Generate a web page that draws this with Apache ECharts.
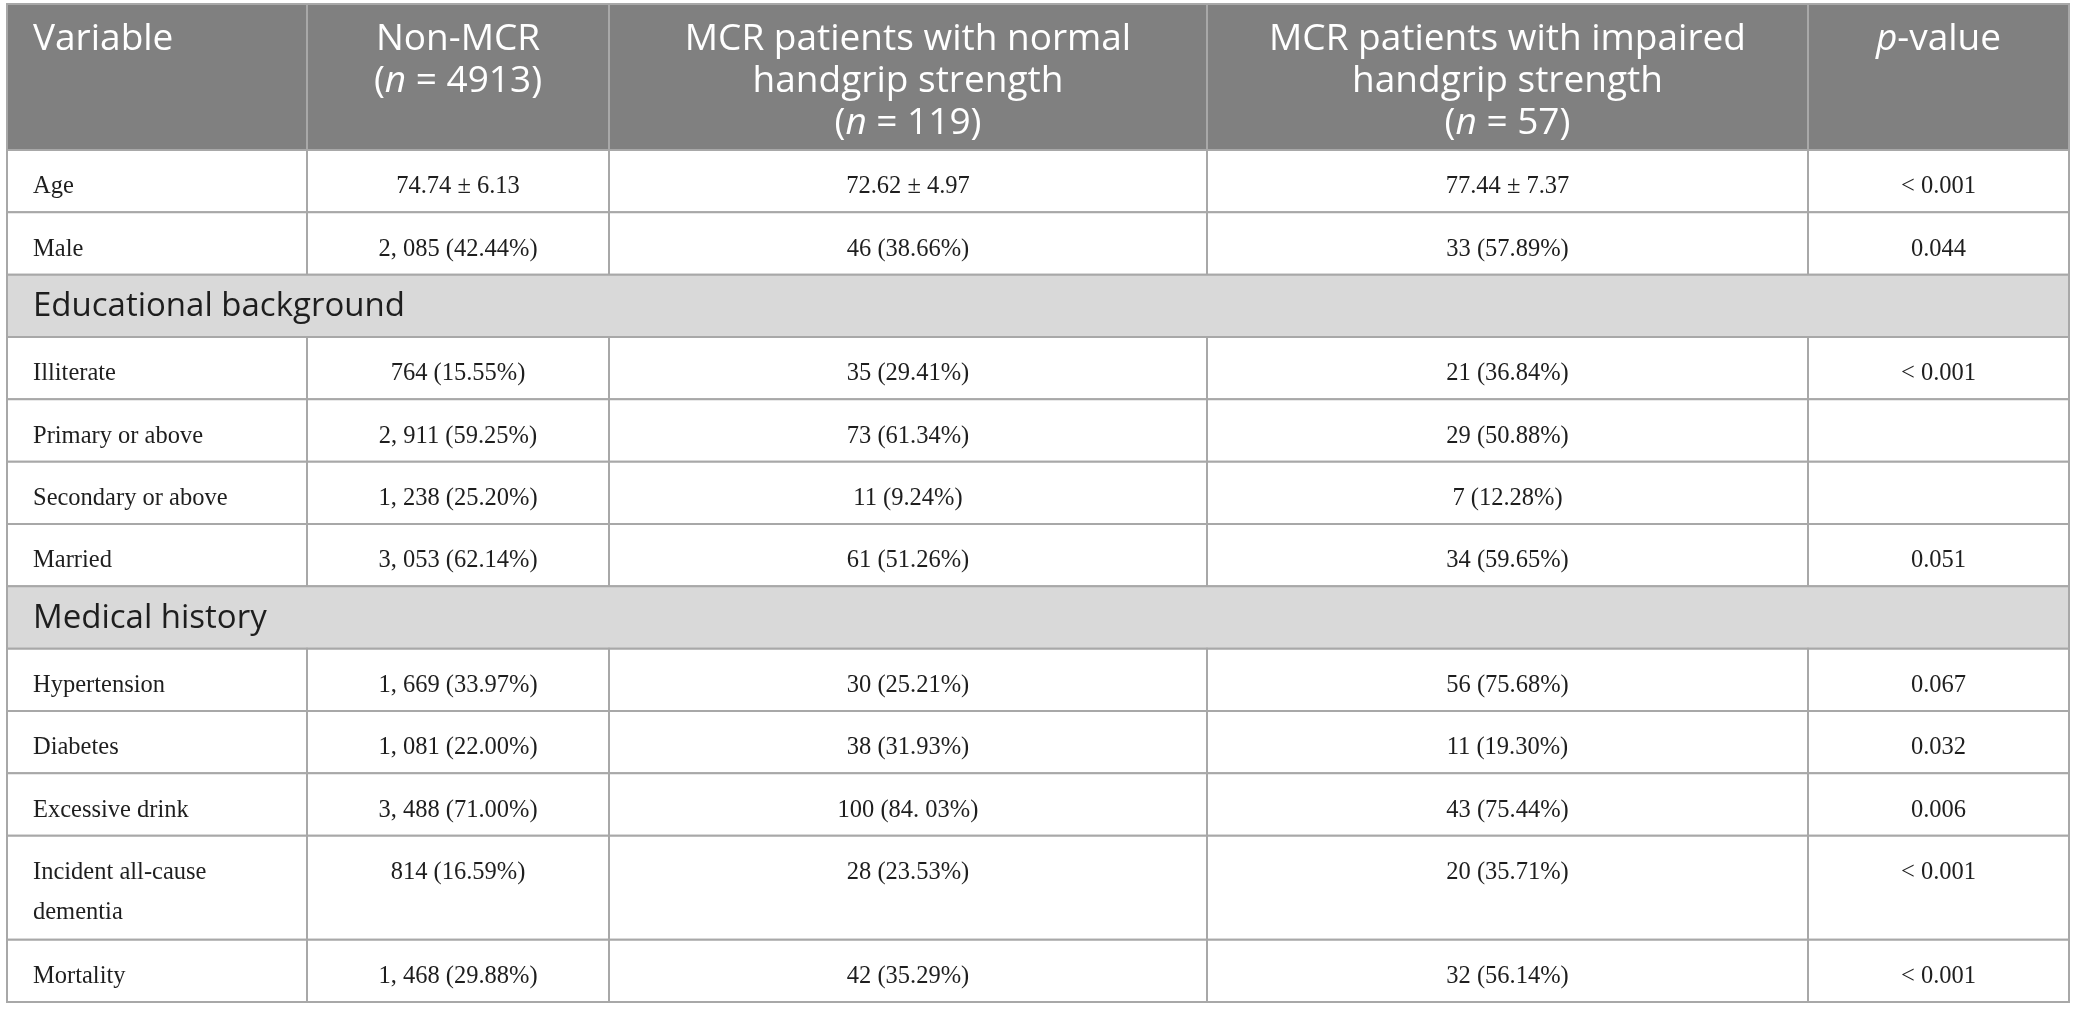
<!DOCTYPE html>
<html lang="en">
<head>
<meta charset="UTF-8">
<title>MCR and handgrip strength</title>
<script src="https://cdn.jsdelivr.net/npm/echarts@6/dist/echarts.min.js"></script>
<style>html,body{margin:0;padding:0;background:#fff;}</style>
</head>
<body>
<div id="main" style="width:2076px;height:1009px;"></div>
<script>
// column headings, {i|..} marks italic text
const headers = [
    'Variable',
    'Non-MCR\n({i|n} = 4913)',
    'MCR patients with normal\nhandgrip strength\n({i|n} = 119)',
    'MCR patients with impaired\nhandgrip strength\n({i|n} = 57)',
    '{i|p}-value'
];
const variables = [
    'Age', 'Male', 'Educational background', 'Illiterate', 'Primary or above',
    'Secondary or above', 'Married', 'Medical history', 'Hypertension', 'Diabetes',
    'Excessive drink', 'Incident all-cause\ndementia', 'Mortality'
];
const sectionRows = ['Educational background', 'Medical history'];
const nonMcr = [
    '74.74 ± 6.13', '2, 085 (42.44%)', '', '764 (15.55%)', '2, 911 (59.25%)',
    '1, 238 (25.20%)', '3, 053 (62.14%)', '', '1, 669 (33.97%)', '1, 081 (22.00%)',
    '3, 488 (71.00%)', '814 (16.59%)', '1, 468 (29.88%)'
];
const mcrNormal = [
    '72.62 ± 4.97', '46 (38.66%)', '', '35 (29.41%)', '73 (61.34%)',
    '11 (9.24%)', '61 (51.26%)', '', '30 (25.21%)', '38 (31.93%)',
    '100 (84. 03%)', '28 (23.53%)', '42 (35.29%)'
];
const mcrImpaired = [
    '77.44 ± 7.37', '33 (57.89%)', '', '21 (36.84%)', '29 (50.88%)',
    '7 (12.28%)', '34 (59.65%)', '', '56 (75.68%)', '11 (19.30%)',
    '43 (75.44%)', '20 (35.71%)', '32 (56.14%)'
];
const pValues = [
    '< 0.001', '0.044', '', '< 0.001', '',
    '', '0.051', '', '0.067', '0.032',
    '0.006', '< 0.001', '< 0.001'
];

// layout (axis units = px)
const colWidths = [300, 302, 598, 601, 261];
const headerHeight = 146;
const rowHeight = 62.33;
const tallRowHeight = 104;

const totalWidth = colWidths.reduce((a, b) => a + b, 0);
const colEdges = [0];
colWidths.forEach(w => colEdges.push(colEdges[colEdges.length - 1] + w));

const SANS = '"Open Sans", "Noto Sans", sans-serif';
const SERIF = '"Liberation Serif", "DejaVu Serif", serif';

// build cell list
const cells = [];
headers.forEach((h, c) => {
    cells.push({ value: [colEdges[c], 0, colEdges[c + 1], headerHeight], kind: 'header', col: c, text: h });
});
let y = headerHeight;
variables.forEach((v, r) => {
    const h = v.indexOf('\n') >= 0 ? tallRowHeight : rowHeight;
    if (sectionRows.indexOf(v) >= 0) {
        cells.push({ value: [0, y, totalWidth, y + h], kind: 'section', col: 0, text: v });
    } else {
        const row = [v, nonMcr[r], mcrNormal[r], mcrImpaired[r], pValues[r]];
        row.forEach((t, c) => {
            cells.push({ value: [colEdges[c], y, colEdges[c + 1], y + h], kind: 'body', col: c, text: t });
        });
    }
    y += h;
});
const totalHeight = y;

function renderCell(params, api) {
    const cell = cells[params.dataIndex];
    const p0 = api.coord([api.value(0), api.value(1)]);
    const p1 = api.coord([api.value(2), api.value(3)]);
    const w = p1[0] - p0[0], h = p1[1] - p0[1];
    let fill = '#ffffff';
    if (cell.kind === 'header') fill = '#808080';
    if (cell.kind === 'section') fill = '#d9d9d9';

    const left = cell.col === 0 || cell.kind === 'section';
    const tx = left ? p0[0] + 26 : p0[0] + w / 2;
    let ts;
    if (cell.kind === 'header') {
        ts = {
            text: cell.text, x: tx, y: p0[1] + 14,
            fill: '#ffffff', fontSize: 37, fontFamily: SANS, lineHeight: 42,
            rich: { i: { fontSize: 37, fontFamily: SANS, fontStyle: 'italic', lineHeight: 42, fill: '#ffffff' } },
            align: left ? 'left' : 'center', textAlign: left ? 'left' : 'center',
            verticalAlign: 'top', textVerticalAlign: 'top'
        };
    } else if (cell.kind === 'section') {
        ts = {
            text: cell.text, x: tx, y: p0[1] + h / 2 + 1,
            fill: '#1e1e1e', fontSize: 33, fontFamily: SANS,
            align: 'left', textAlign: 'left',
            verticalAlign: 'middle', textVerticalAlign: 'middle'
        };
    } else {
        ts = {
            text: cell.text, x: tx, y: p0[1] + 17,
            fill: '#1e1e1e', fontSize: 24.5, fontFamily: SERIF, lineHeight: 40,
            align: left ? 'left' : 'center', textAlign: left ? 'left' : 'center',
            verticalAlign: 'top', textVerticalAlign: 'top'
        };
    }
    return {
        type: 'group',
        children: [
            {
                type: 'rect',
                shape: { x: p0[0], y: p0[1], width: w, height: h },
                style: { fill: fill, stroke: '#a8a8a8', lineWidth: 2 }
            },
            { type: 'text', style: ts }
        ]
    };
}

const option = {
    animation: false,
    backgroundColor: '#ffffff',
    grid: { left: 7, top: 4, width: totalWidth, height: totalHeight },
    xAxis: { type: 'value', min: 0, max: totalWidth, show: false },
    yAxis: { type: 'value', min: 0, max: totalHeight, inverse: true, show: false },
    series: [{
        type: 'custom',
        coordinateSystem: 'cartesian2d',
        encode: { x: [0, 2], y: [1, 3] },
        renderItem: renderCell,
        data: cells.map(c => c.value)
    }]
};

const myChart = echarts.init(document.getElementById('main'));
myChart.setOption(option);
</script>
</body>
</html>
